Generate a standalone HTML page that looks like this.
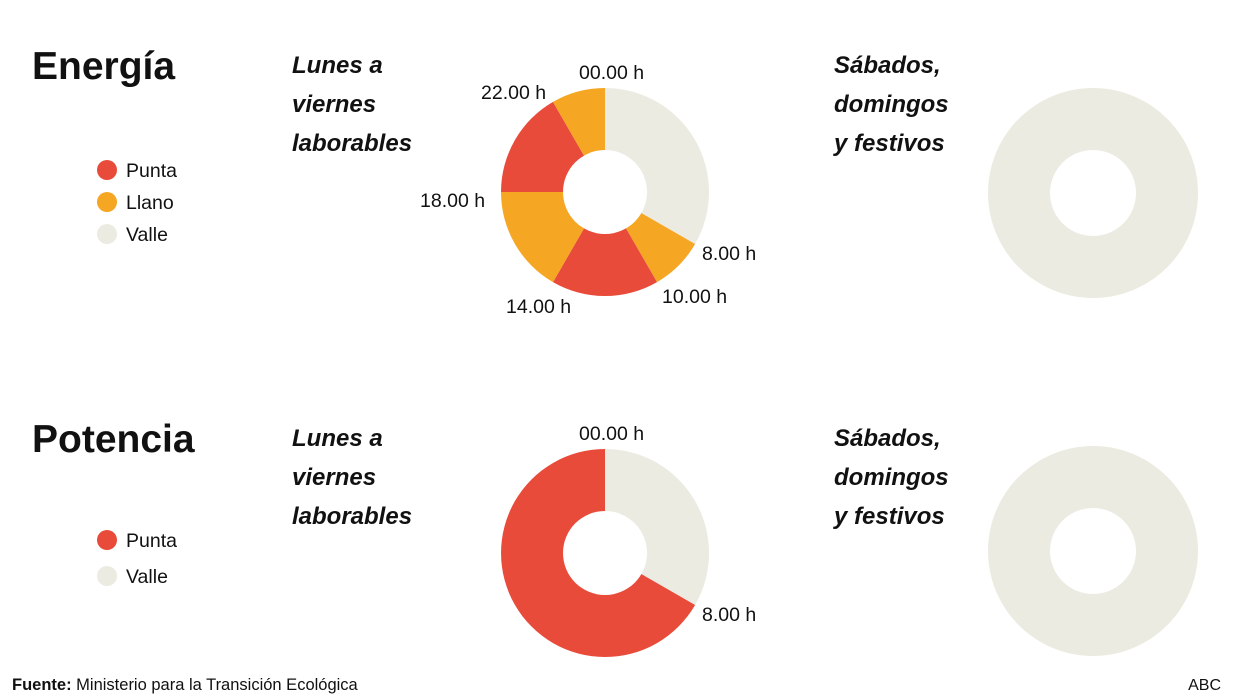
<!DOCTYPE html>
<html><head><meta charset="utf-8"><style>
body{margin:0;background:#fff;}
svg{display:block;font-family:"Liberation Sans",sans-serif;}
</style></head><body>
<svg width="1248" height="698" viewBox="0 0 1248 698">
<g fill="#111">
<text x="32" y="79" font-size="39" font-weight="bold">Energía</text>
<text x="32" y="452" font-size="39" font-weight="bold">Potencia</text>
<g font-size="24" font-weight="bold" font-style="italic">
<text x="292" y="73">Lunes a</text><text x="292" y="112">viernes</text><text x="292" y="151">laborables</text>
<text x="292" y="446">Lunes a</text><text x="292" y="485">viernes</text><text x="292" y="524">laborables</text>
<text x="834" y="73">Sábados,</text><text x="834" y="112">domingos</text><text x="834" y="151">y festivos</text>
<text x="834" y="446">Sábados,</text><text x="834" y="485">domingos</text><text x="834" y="524">y festivos</text>
</g>
<g font-size="19.5">
<text x="126" y="177">Punta</text><text x="126" y="209">Llano</text><text x="126" y="241">Valle</text>
<text x="126" y="547">Punta</text><text x="126" y="583">Valle</text>
<text x="579" y="79">00.00 h</text>
<text x="481" y="99">22.00 h</text>
<text x="420" y="207">18.00 h</text>
<text x="506" y="313">14.00 h</text>
<text x="662" y="303">10.00 h</text>
<text x="702" y="260">8.00 h</text>
<text x="579" y="440">00.00 h</text>
<text x="702" y="621">8.00 h</text>
</g>
<text x="12" y="690" font-size="16.5"><tspan font-weight="bold">Fuente:</tspan> Ministerio para la Transición Ecológica</text>
<text x="1221" y="690" font-size="16" text-anchor="end">ABC</text>
</g>
<circle cx="107" cy="170" r="10" fill="#e84b3a"/>
<circle cx="107" cy="202" r="10" fill="#f5a623"/>
<circle cx="107" cy="234" r="10" fill="#ecebe2"/>
<circle cx="107" cy="540" r="10" fill="#e84b3a"/>
<circle cx="107" cy="576" r="10" fill="#ecebe2"/>
<path d="M605 192 L605 88 A104 104 0 0 1 695.1 244 Z" fill="#ecebe2"/>
<path d="M605 192 L695.1 244 A104 104 0 0 1 657 282.1 Z" fill="#f5a623"/>
<path d="M605 192 L657 282.1 A104 104 0 0 1 553 282.1 Z" fill="#e84b3a"/>
<path d="M605 192 L553 282.1 A104 104 0 0 1 501 192 Z" fill="#f5a623"/>
<path d="M605 192 L501 192 A104 104 0 0 1 553 101.9 Z" fill="#e84b3a"/>
<path d="M605 192 L553 101.9 A104 104 0 0 1 605 88 Z" fill="#f5a623"/>
<circle cx="605" cy="192" r="42" fill="#fff"/>
<path d="M605 553 L605 449 A104 104 0 0 1 695.1 605 Z" fill="#ecebe2"/>
<path d="M605 553 L695.1 605 A104 104 0 1 1 605 449 Z" fill="#e84b3a"/>
<circle cx="605" cy="553" r="42" fill="#fff"/>
<circle cx="1093" cy="193" r="105" fill="#ecebe2"/>
<circle cx="1093" cy="193" r="43" fill="#fff"/>
<circle cx="1093" cy="551" r="105" fill="#ecebe2"/>
<circle cx="1093" cy="551" r="43" fill="#fff"/>
</svg>
</body></html>
